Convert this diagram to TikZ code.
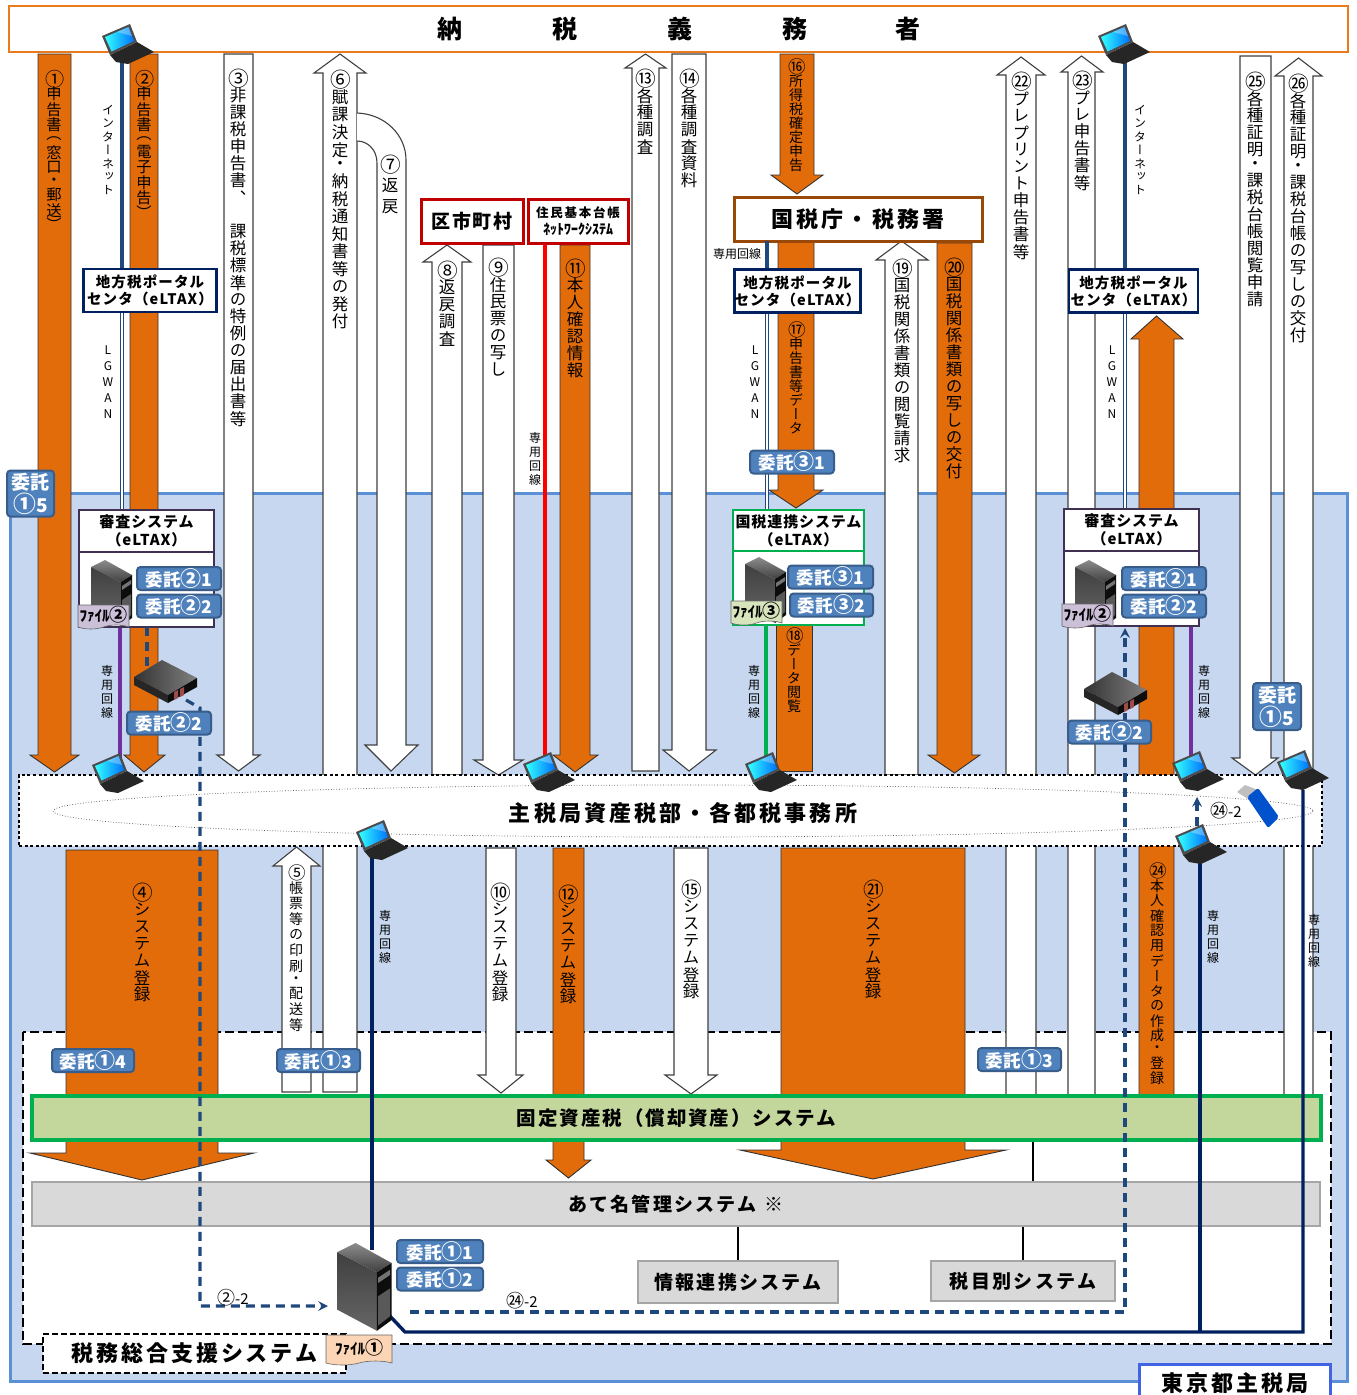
\documentclass[tikz,border=0pt]{standalone}
\usepackage{fontspec}
\setmainfont{Noto Sans CJK JP}
\newfontfamily\vjp[RawFeature=+vert]{Noto Sans CJK JP}
\usetikzlibrary{arrows.meta, positioning, shapes.symbols}

\definecolor{kOrange}{HTML}{E36C0A}
\definecolor{kEdge}{HTML}{E97B1F}
\definecolor{kSky}{HTML}{C6D7EF}
\definecolor{kSkyLine}{HTML}{5B8FD6}
\definecolor{kNavy}{HTML}{002060}
\definecolor{kNet}{HTML}{1F497D}
\definecolor{kPurple}{HTML}{7030A0}
\definecolor{kDusk}{HTML}{403152}
\definecolor{kGreen}{HTML}{00B050}
\definecolor{kLeaf}{HTML}{C3D69B}
\definecolor{kBrown}{HTML}{984807}
\definecolor{kRed}{HTML}{C00000}
\definecolor{kTag}{HTML}{4F81BD}
\definecolor{kTagLine}{HTML}{385D8A}
\definecolor{kFileP}{HTML}{CCC0D9}
\definecolor{kFileG}{HTML}{D7E4BC}
\definecolor{kFileO}{HTML}{FBD5B5}

\tikzstyle{orangearr} = [fill=kOrange, draw=black!80, line width=.9pt]
\tikzstyle{whitearr} = [fill=white, draw=black!75, line width=1.1pt]
\tikzstyle{vlab} = [anchor=north, inner sep=0, font=\vjp\fontsize{16.5}{16.5}\selectfont]
\tikzstyle{vtight} = [anchor=north, inner sep=0, font=\vjp\fontsize{15.3}{15.3}\selectfont]
\tikzstyle{vmid} = [anchor=north, inner sep=0, font=\vjp\fontsize{14}{14}\selectfont]
\tikzstyle{vsmall} = [anchor=north, inner sep=0, font=\vjp\fontsize{12}{12}\selectfont]
\tikzstyle{itaku} = [rectangle, rounded corners=3.5pt, fill=kTag, draw=kTagLine, line width=2pt, text=white, inner sep=0, minimum height=23, align=center, font=\bfseries\fontsize{17.5}{19}\selectfont\addfontfeature{LetterSpace=3}]
\tikzstyle{portal} = [rectangle, draw=kNavy, fill=white, line width=2.5pt, inner sep=0, minimum width=133, minimum height=43, align=center, font=\bfseries\fontsize{14.5}{17}\selectfont\addfontfeature{LetterSpace=8}]
\tikzstyle{sysbox} = [rectangle, fill=white, line width=2.6pt, inner sep=0, minimum width=135, align=center, font=\bfseries\fontsize{15}{18}\selectfont\addfontfeature{LetterSpace=6}]
\tikzstyle{graybox} = [rectangle, fill=black!15, draw=black!35, line width=2.8pt, inner sep=0, font=\bfseries\fontsize{19}{19}\selectfont\addfontfeature{LetterSpace=12}]
\tikzstyle{filetag} = [tape, tape bend top=none, tape bend height=4pt, draw=black!60, line width=.6pt, inner sep=0, minimum width=51, minimum height=24, font=\bfseries\fontsize{15}{15}\selectfont]
\tikzstyle{inet} = [draw=kNet, line width=3.4pt]
\tikzstyle{lgwan} = [draw=kNet, line width=1.2pt, double=white, double distance=1.6pt]
\tikzstyle{senyo} = [line width=3.4pt]
\tikzstyle{dashline} = [draw=kNet, line width=3.2pt, dash pattern=on 9pt off 6pt, >=stealth]

% circled numbers drawn a little larger
\newcommand{\tn}[1]{\scalebox{1.2}{#1}}

% stacked vertical text: circled number, pitch, characters
\makeatletter
\def\vkakkoL{（}\def\vkakkoR{）}\def\vdot{・}
\newcommand{\vcell}[1]{\vbox to #1{\vss\hbox to 24pt{\hss\vch\hss}\vss}}
\newcommand{\vstack}[3][]{\vbox{\offinterlineskip
  \if\relax\detokenize{#1}\relax\else\vbox to #2pt{\vss\hbox to 24pt{\hss\kern1.5pt\scalebox{1.25}{#1}\hss}\vss}\fi
  \@tfor\vch:=#3\do{%
  \ifx\vch\vkakkoL\vcell{\dimexpr#2pt*8/10\relax}%
  \else\ifx\vch\vkakkoR\vcell{\dimexpr#2pt*8/10\relax}%
  \else\ifx\vch\vdot\vcell{\dimexpr#2pt*8/10\relax}%
  \else\vcell{#2pt}\fi\fi\fi}}}
\makeatother

% block arrows: style, left, right, end, neck, head left, head right, tip
\newcommand{\arrowbody}[8]{\draw[#1] (#2,#4) -- (#2,#5) -- (#6,#5) -- ({(#2+#3)/2},#8) -- (#7,#5) -- (#3,#5) -- (#3,#4) -- cycle;}

\tikzset{
laptop/.pic={
  \fill[black!85] (8,31) -- (35,18) -- (52,28) -- (26,40) -- (14,38) -- cycle;
  \fill[black!70] (0,12) -- (28,0) -- (35,18) -- (8,31) -- cycle;
  \shade[left color=cyan!80!white, right color=blue!55!cyan] (3,13) -- (26.5,3) -- (32,17) -- (9.5,27.5) -- cycle;
  \fill[white,opacity=.3] (15,8) -- (26.5,3) -- (30,12) -- cycle;
},
tower/.pic={
  \shade[top color=black!45, bottom color=black!75] (0,7) -- (14,0) -- (41,15) -- (30,22) -- cycle;
  \shade[top color=black!75, bottom color=black!60] (0,7) -- (30,22) -- (30,66) -- (0,50) -- cycle;
  \fill[black!95] (30,22) -- (41,15) -- (41,58) -- (30,66) -- cycle;
  \fill[black!55] (31,26) -- (40,20) -- (40,24) -- (31,30) -- cycle;
  \fill[black!65] (31,40) -- (40,34) -- (40,55) -- (31,62) -- cycle;
},
rack/.pic={
  \shade[left color=black!80, right color=black!50] (0,17) -- (28,0) -- (63,18) -- (34,35) -- cycle;
  \fill[black!85] (0,17) -- (34,35) -- (34,43) -- (0,25) -- cycle;
  \fill[black!95] (34,35) -- (63,18) -- (63,27) -- (34,43) -- cycle;
  \fill[red!45!black!70] (40,32) -- (44,30) -- (44,38) -- (40,40) -- cycle;
  \fill[red!45!black!70] (46,29) -- (50,27) -- (50,35) -- (46,37) -- cycle;
}}

\begin{document}
\begin{tikzpicture}[x=1pt, y=-1pt]
\useasboundingbox (0,0) rectangle (1357,1395);

% Blue office area
\draw[fill=kSky, draw=kSkyLine, line width=3pt] (10,493) rectangle (1347,1381);
\draw[fill=white, draw=black, line width=2.4pt, dash pattern=on 9pt off 4pt] (23,1032) rectangle (1331,1344);

% Upper arrows
\arrowbody{orangearr}{38}{71}{54}{755}{30}{79}{772}
\arrowbody{orangearr}{130}{158}{54}{755}{124}{165}{772}
\arrowbody{whitearr}{224}{253}{54}{755}{217}{260}{771}
\arrowbody{whitearr}{323}{357}{1092}{73}{314}{366}{54}
\draw[whitearr] (357,113) .. controls (385,114) and (406,135) .. (406,160) -- (406,745) -- (418,745) -- (391,771) -- (365,745) -- (377,745) -- (377,163) .. controls (377,150) and (368,141) .. (357,141);
\arrowbody{whitearr}{432}{462}{775}{262}{423}{471}{245}
\arrowbody{whitearr}{483}{514}{245}{760}{474}{523}{775}
\arrowbody{orangearr}{560}{590}{245}{755}{553}{598}{772}
\arrowbody{whitearr}{632}{659}{771}{68}{625}{666}{54}
\arrowbody{whitearr}{672}{706}{54}{750}{663}{716}{771}
\arrowbody{orangearr}{780}{814}{54}{175}{771}{823}{194}
\arrowbody{orangearr}{778}{814}{241}{490}{769}{823}{508}
\draw[orangearr] (776,620) rectangle (812,771);
\arrowbody{whitearr}{885}{918}{775}{260}{876}{928}{241}
\arrowbody{orangearr}{937}{972}{243}{755}{928}{980}{773}
\arrowbody{whitearr}{1006}{1036}{1096}{75}{997}{1045}{57}
\arrowbody{whitearr}{1068}{1095}{1096}{72}{1061}{1103}{56}
\arrowbody{orangearr}{1139}{1174}{1096}{339}{1131}{1183}{316}
\arrowbody{whitearr}{1240}{1271}{56}{758}{1232}{1278}{775}
\arrowbody{whitearr}{1284}{1313}{1096}{76}{1275}{1322}{58}

% Lower arrows
\arrowbody{orangearr}{66}{218}{850}{1153}{30}{254}{1180}
\arrowbody{whitearr}{282}{311}{1092}{866}{273}{320}{847}
\arrowbody{whitearr}{486}{516}{848}{1075}{478}{523}{1093}
\arrowbody{orangearr}{553}{584}{848}{1160}{546}{591}{1178}
\arrowbody{whitearr}{674}{708}{848}{1075}{665}{717}{1094}
\arrowbody{orangearr}{781}{965}{848}{1150}{740}{1006}{1179}

% Taxpayer and offices
\node (taxpayer) [rectangle, draw=kEdge, fill=white, line width=2.6pt, minimum width=1339, minimum height=46, inner sep=0, font=\bfseries\fontsize{25}{25}\selectfont] at (678.5,29) {納\hspace{90pt}税\hspace{90pt}義\hspace{90pt}務\hspace{88pt}者};
\node (kushichoson) [rectangle, draw=kRed, fill=white, line width=3pt, minimum width=102, minimum height=44, inner sep=0, font=\bfseries\fontsize{19}{19}\selectfont\addfontfeature{LetterSpace=10}] at (472,221) {区市町村};
\node (juki) [rectangle, draw=kRed, fill=white, line width=3pt, minimum width=100, minimum height=44, inner sep=0, align=center, font=\bfseries\fontsize{12.5}{17}\selectfont] at (578,221) {\addfontfeature{LetterSpace=14}住民基本台帳\\\fontsize{14}{17}\selectfont ﾈｯﾄﾜｰｸｼｽﾃﾑ};
\node (kokuzei) [rectangle, draw=kBrown, fill=white, line width=3pt, minimum width=248, minimum height=44, inner sep=0, font=\bfseries\fontsize{22}{22}\selectfont\addfontfeature{LetterSpace=14}] at (858,219) {国税庁・税務署};

% Portal centres and review systems
\node (portalA) [portal] at (150,290.5) {地方税ポータル\\センタ（eLTAX）};
\node (portalK) [portal, minimum width=125] at (797.5,291) {地方税ポータル\\センタ（eLTAX）};
\node (portalB) [portal, minimum width=129] at (1133.5,291) {地方税ポータル\\センタ（eLTAX）};
\node (shinsaA) [sysbox, draw=kDusk, minimum height=42] at (146.5,531) {審査システム\\（eLTAX）};
\node (bodyA) [sysbox, draw=kDusk, minimum height=75, below=-2.6pt of shinsaA] {};
\node (renkei) [sysbox, draw=kGreen, minimum width=131, minimum height=41] at (798.5,530.5) {国税連携システム\\（eLTAX）};
\node (bodyK) [sysbox, draw=kGreen, minimum width=131, minimum height=74, below=-2.6pt of renkei] {};
\node (shinsaB) [sysbox, draw=kDusk, minimum height=42] at (1131.5,530) {審査システム\\（eLTAX）};
\node (bodyB) [sysbox, draw=kDusk, minimum height=75, below=-2.6pt of shinsaB] {};

% Anchor points of the lines
\coordinate (lapA) at (122,54);
\coordinate (lapB) at (1125,54);
\coordinate (lineKa) at (767,241);
\coordinate (lapC) at (120,772);
\coordinate (lapD) at (544.5,758);
\coordinate (lapE) at (766,758);
\coordinate (lapF) at (1191,758);
\coordinate (lapG) at (372,855);
\coordinate (lapH) at (1200,855);
\coordinate (lapI) at (1303,790);
\coordinate (towerTop) at (372,1250);
\coordinate (towerFoot) at (388,1314);
\coordinate (busBend) at (405,1332);
\coordinate (busEnd) at (1303,1332);
\coordinate (busMid) at (1200,1332);

% Network lines
\draw[inet] (lapA) -- (portalA.north -| lapA);
\draw[lgwan] (portalA.south -| lapA) -- (shinsaA.north -| lapA);
\draw[inet] (lapB) -- (portalB.north -| lapB);
\draw[lgwan] (portalB.south -| lapB) -- (shinsaB.north -| lapB);
\draw[inet] (lineKa) -- (portalK.north -| lineKa);
\draw[lgwan] (portalK.south -| lineKa) -- (renkei.north -| lineKa);
\draw[senyo, kPurple] (bodyA.south -| lapC) -- (lapC);
\draw[senyo, kPurple] (bodyB.south -| lapF) -- (lapF);
\draw[line width=4pt, red] (juki.south -| lapD) -- (lapD);
\draw[line width=4pt, kGreen] (bodyK.south -| lapE) -- (lapE);

% Tax office band
\node (office) [rectangle, fill=white, draw=black, line width=2.6pt, dash pattern=on 3pt off 2.6pt, minimum width=1303, minimum height=71, inner sep=0] at (670.5,810.5) {};
\draw[black!70, line width=.7pt, dotted] (683,811) ellipse (630 and 26);
\node (officetext) [font=\bfseries\fontsize{22}{22}\selectfont\addfontfeature{LetterSpace=14}] at (683,813) {主税局資産税部・各都税事務所};

% Core systems
\node (kotei) [rectangle, fill=kLeaf, draw=kGreen, line width=4pt, minimum width=1289, minimum height=44, inner sep=0, font=\bfseries\fontsize{19.5}{19.5}\selectfont\addfontfeature{LetterSpace=10}] at (676.5,1118) {固定資産税（償却資産）システム};
\node (atena) [graybox, minimum width=1288, minimum height=44] at (676,1204) {あて名管理システム\hspace{8pt}※};
\node (joho) [graybox, minimum width=200, minimum height=42] at (738,1282) {情報連携システム};
\node (zeimoku) [graybox, minimum width=184, minimum height=40] at (1023,1281) {税目別システム};
\draw[black, line width=2.2pt] (kotei.south -| 1033,0) -- (atena.north -| 1033,0);
\draw[black, line width=2.2pt] (atena.south -| joho) -- (joho.north);
\draw[black, line width=2.2pt] (atena.south -| zeimoku) -- (zeimoku.north);

% Lines across the core systems
\draw[senyo, kNavy] (lapG) -- (towerTop);
\draw[senyo, kNavy] (lapH) -- (busMid);
\draw[senyo, kNavy] (lapI) -- (busEnd) -- (busBend) -- (towerFoot);
\draw[dashline] (147,627) -- (147,668);
\draw[dashline, ->] (186,700) -- (200,708) -- (200,1306) -- (328,1306);
\draw[dashline, ->] (410,1312) -- (1125,1312) -- (1125,628);
\draw[dashline, ->] (1197,826) -- (1197,797);

% Lower boxes
\node (sogo) [rectangle, fill=white, draw=black, line width=2.4pt, dash pattern=on 6pt off 3pt, minimum width=303, minimum height=39, inner sep=0, font=\bfseries\fontsize{22}{22}\selectfont\addfontfeature{LetterSpace=13}] at (194.5,1353.5) {税務総合支援システム};
\node (tokyo) [rectangle, fill=white, inner sep=0, minimum width=190, minimum height=36, font=\bfseries\fontsize{22}{22}\selectfont\addfontfeature{LetterSpace=14}, yshift=-1pt] at (1235,1382) {東京都主税局};
\draw[draw=kSkyLine!70!blue, line width=2.8pt] (tokyo.south west) |- (tokyo.north east) -- (tokyo.south east);

% Computers
\pic at (102,24) {laptop};
\pic at (1098,24) {laptop};
\pic at (92,753) {laptop};
\pic at (523,752) {laptop};
\pic at (745,752) {laptop};
\pic at (1172,751) {laptop};
\pic at (1277,750) {laptop};
\pic at (356,820) {laptop};
\pic at (1175,824) {laptop};
\pic at (91,560) {tower};
\pic at (745,557) {tower};
\pic at (1075,560) {tower};
\pic[scale=1.33] at (337,1243) {tower};
\pic at (134,660) {rack};
\pic at (1084,672) {rack};

% USB stick
\fill[black!25] (1237,792) -- (1245,785) -- (1258,790) -- (1248,799) -- cycle;
\fill[blue!60!cyan!80!black, rounded corners=2pt] (1247,797) -- (1258,788) -- (1279,817) -- (1268,828) -- cycle;

% File tags
\node (fileA) [filetag, fill=kFileP] at (103.5,615) {ﾌｧｲﾙ\tn{②}};
\node (fileK) [filetag, fill=kFileG] at (756.5,611) {ﾌｧｲﾙ\tn{③}};
\node (fileB) [filetag, fill=kFileP] at (1087.5,614) {ﾌｧｲﾙ\tn{②}};
\node (fileC) [filetag, fill=kFileO, minimum width=66, minimum height=30] at (359,1348) {ﾌｧｲﾙ\tn{①}};

% Entrustment tags
\node (tagL) [itaku, minimum width=47, minimum height=46, font=\bfseries\fontsize{19}{23}\selectfont] at (30.5,493.5) {委託\\\tn{①}5};
\node (tagR) [itaku, minimum width=48, minimum height=47, font=\bfseries\fontsize{19}{23}\selectfont] at (1277,706.5) {委託\\\tn{①}5};
\node (tagA1) [itaku, minimum width=84] at (179,578.5) {委託\tn{②}1};
\node (tagA2) [itaku, minimum width=84] at (179,606) {委託\tn{②}2};
\node (tagA3) [itaku, minimum width=84] at (169,723) {委託\tn{②}2};
\node (tagK0) [itaku, minimum width=84] at (792,462) {委託\tn{③}1};
\node (tagK1) [itaku, minimum width=85] at (830.5,577) {委託\tn{③}1};
\node (tagK2) [itaku, minimum width=83] at (831.5,605) {委託\tn{③}2};
\node (tagB1) [itaku, minimum width=84] at (1164,578.5) {委託\tn{②}1};
\node (tagB2) [itaku, minimum width=84] at (1164,606) {委託\tn{②}2};
\node (tagB3) [itaku, minimum width=83] at (1109.5,732) {委託\tn{②}2};
\node (tagC1) [itaku, minimum width=82] at (93,1060.5) {委託\tn{①}4};
\node (tagC2) [itaku, minimum width=83] at (318.5,1060.5) {委託\tn{①}3};
\node (tagC3) [itaku, minimum width=83] at (1019.5,1059.5) {委託\tn{①}3};
\node (tagD1) [itaku, minimum width=86] at (440,1251.5) {委託\tn{①}1};
\node (tagD2) [itaku, minimum width=86] at (440,1279) {委託\tn{①}2};

% Upper labels
\node (lab1) [vtight] at (54,71) {\vstack[①]{15.3}{申告書（窓口・郵送）}};
\node (lab2) [vtight] at (144,71) {\vstack[②]{15.3}{申告書（電子申告）}};
\node (lab3) [vlab] at (238,70) {\vstack[③]{17}{非課税申告書、　課税標準の特例の届出書等}};
\node (lab6) [vlab] at (340,71) {\vstack[⑥]{17.5}{賦課決定・納税通知書等の発付}};
\node (lab7) [vlab] at (390,154) {\vstack[⑦]{21}{返戻}};
\node (lab8) [vlab] at (447,262) {\vstack[⑧]{17}{返戻調査}};
\node (lab9) [vlab] at (498,259) {\vstack[⑨]{17}{住民票の写し}};
\node (lab11) [vlab] at (575,260) {\vstack[⑪]{17}{本人確認情報}};
\node (lab13) [vlab] at (645,70) {\vstack[⑬]{17}{各種調査}};
\node (lab14) [vlab] at (689,70) {\vstack[⑭]{17}{各種調査資料}};
\node (lab16) [vmid] at (796,60) {\vstack[⑯]{14}{所得税確定申告}};
\node (lab17) [vmid] at (796,323) {\vstack[⑰]{14}{申告書等データ}};
\node (lab18) [vmid] at (794,629) {\vstack[⑱]{14}{データ閲覧}};
\node (lab19) [vlab] at (902,260) {\vstack[⑲]{17}{国税関係書類の閲覧請求}};
\node (lab20) [vlab] at (954,259) {\vstack[⑳]{17}{国税関係書類の写しの交付}};
\node (lab22) [vlab] at (1021,73) {\vstack[㉒]{17}{プレプリント申告書等}};
\node (lab23) [vlab] at (1082,72) {\vstack[㉓]{17}{プレ申告書等}};
\node (lab25) [vlab] at (1255,73) {\vstack[㉕]{17}{各種証明・課税台帳閲覧申請}};
\node (lab26) [vlab] at (1298,75) {\vstack[㉖]{17}{各種証明・課税台帳の写しの交付}};

% Lower labels
\node (lab4) [vlab] at (142,884) {\vstack[④]{17}{システム登録}};
\node (lab5) [vmid] at (296,865) {\vstack[⑤]{15.5}{帳票等の印刷・配送等}};
\node (lab10) [vlab] at (500,884) {\vstack[⑩]{17}{システム登録}};
\node (lab12) [vlab] at (568,886) {\vstack[⑫]{17}{システム登録}};
\node (lab15) [vlab] at (691,881) {\vstack[⑮]{17}{システム登録}};
\node (lab21) [vlab] at (873,881) {\vstack[㉑]{17}{システム登録}};
\node (lab24) [vmid] at (1157,863) {\vstack[㉔]{15}{本人確認用データの作成・登録}};

% Line names
\node (net1) [vsmall] at (108,103) {\vstack{13.4}{インターネット}};
\node (net2) [vsmall] at (1140,103) {\vstack{13.4}{インターネット}};
\node (wan1) [vsmall] at (108,342) {\vstack{16}{LGWAN}};
\node (wan2) [vsmall] at (755,342) {\vstack{16}{LGWAN}};
\node (wan3) [vsmall] at (1112,342) {\vstack{16}{LGWAN}};
\node (sen1) [vsmall] at (107,664) {\vstack{14}{専用回線}};
\node (sen2) [vsmall] at (535,431) {\vstack{14}{専用回線}};
\node (sen3) [vsmall] at (754,664) {\vstack{14}{専用回線}};
\node (sen4) [vsmall] at (1204,664) {\vstack{14}{専用回線}};
\node (sen5) [vsmall] at (385,909) {\vstack{14}{専用回線}};
\node (sen6) [vsmall] at (1213,909) {\vstack{14}{専用回線}};
\node (sen7) [vsmall] at (1314,913) {\vstack{14}{専用回線}};
\node (sen8) [font=\fontsize{12}{12}\selectfont, inner sep=0] at (737,254) {専用回線};
\node (no1) [font=\fontsize{15}{15}\selectfont, inner sep=0] at (233,1298) {\tn{②}-2};
\node (no2) [font=\fontsize{15}{15}\selectfont, inner sep=0] at (522,1301) {\tn{㉔}-2};
\node (no3) [font=\fontsize{15}{15}\selectfont, inner sep=0] at (1226,811) {\tn{㉔}-2};

\end{tikzpicture}
\end{document}
